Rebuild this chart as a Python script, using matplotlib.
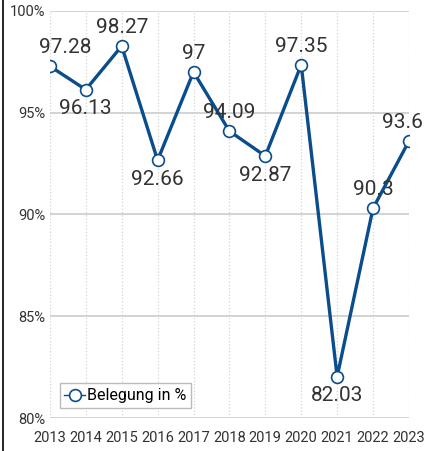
import matplotlib.pyplot as plt
from matplotlib.lines import Line2D

# Belegung in Prozent pro Jahr
years = [2013, 2014, 2015, 2016, 2017, 2018, 2019, 2020, 2021, 2022, 2023]
belegung = [97.28, 96.13, 98.27, 92.66, 97, 94.09, 92.87, 97.35, 82.03, 90.3, 93.6]
labels = ["97.28", "96.13", "98.27", "92.66", "97", "94.09", "92.87", "97.35", "82.03", "90.3", "93.6"]
above = [True, False, True, False, True, True, False, True, False, True, True]
yticks = [80, 85, 90, 95, 100]

plt.rcParams['font.family'] = ['Roboto', 'DejaVu Sans']
blue = "#0a4d8c"

fig = plt.figure(figsize=(4.3, 4.51), dpi=100)
ax = fig.add_axes([0.116, 0.073, 0.835, 0.903])

ax.plot(years, belegung, color=blue, lw=2.4, marker="o", markersize=8.5,
        markerfacecolor="white", markeredgecolor=blue, markeredgewidth=1.2,
        label="Belegung in %", zorder=3)

for i, (x, y, t, a) in enumerate(zip(years, belegung, labels, above)):
    off = 6.5 if a else -7
    dx = 0
    if i == 0:
        dx = 11   # edge labels pushed inward
    elif i == len(years) - 1:
        dx = -5
    ax.annotate(t, (x, y), xytext=(dx, off), textcoords="offset points",
                ha="center", va="bottom" if a else "top", fontsize=15, color="#333333")

ax.set_xlim(2013, 2023)
ax.set_ylim(80, 100)
ax.set_xticks(years)
ax.set_yticks(yticks)
ax.set_yticklabels([f"{v}%" for v in yticks])
ax.tick_params(length=0, labelsize=10.5, colors="#333333", pad=3)
ax.tick_params(axis="x", pad=9)
ax.grid(axis="y", color="#cccccc", lw=1.2)
ax.grid(axis="x", color="#d4d4d4", lw=0.9, ls=":")
for s in ax.spines.values():
    s.set_visible(False)

leg = ax.legend(loc="lower left", bbox_to_anchor=(0.005, 0.005), fontsize=11.5,
                handlelength=1.3, handletextpad=0.1, borderpad=0.3,
                fancybox=False, edgecolor="#bbbbbb", framealpha=1)
for h in leg.get_lines():
    h.set_linewidth(1.0)

fig.add_artist(Line2D([0.007, 0.007], [0.0, 1.0], color="black", lw=1.2))

fig.savefig("out.png", dpi=100)
